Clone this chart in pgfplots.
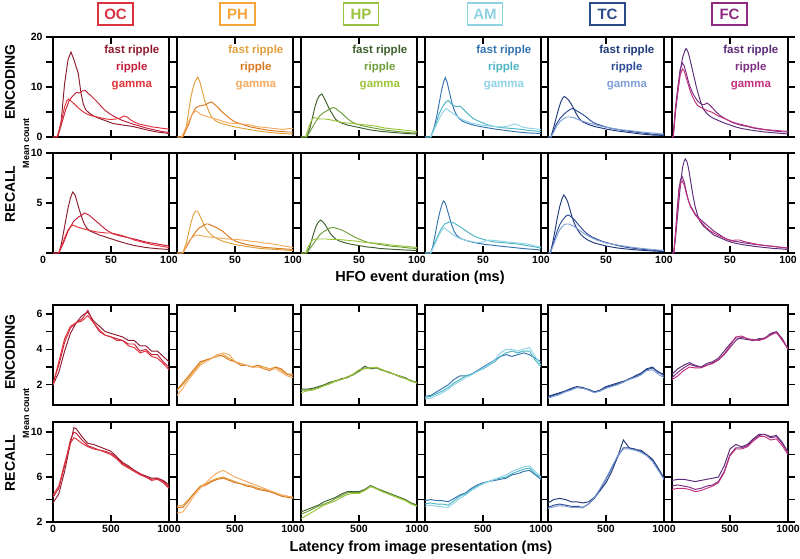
\documentclass[border=0pt]{standalone}
\usepackage{fontspec}
\setmainfont{Liberation Sans}
\usepackage{pgfplots}
\usepackage{pgfplotstable}
\pgfplotsset{compat=1.18}

\definecolor{OCa}{HTML}{8E1B2E}\definecolor{OCb}{HTML}{C41E3A}\definecolor{OCc}{HTML}{E2333A}\definecolor{OCbox}{HTML}{D9333F}
\definecolor{PHa}{HTML}{E0A03C}\definecolor{PHb}{HTML}{D9781E}\definecolor{PHc}{HTML}{F6AA60}\definecolor{PHbox}{HTML}{F5A53A}
\definecolor{HPa}{HTML}{3E5F2E}\definecolor{HPb}{HTML}{6E9E3A}\definecolor{HPc}{HTML}{9CC43A}\definecolor{HPbox}{HTML}{9BC23F}
\definecolor{AMa}{HTML}{3573B0}\definecolor{AMb}{HTML}{4BB5C1}\definecolor{AMc}{HTML}{8ED3E6}\definecolor{AMbox}{HTML}{8FD2E2}
\definecolor{TCa}{HTML}{1F3A7A}\definecolor{TCb}{HTML}{2B4C95}\definecolor{TCc}{HTML}{7F9FD6}\definecolor{TCbox}{HTML}{2B4A8A}
\definecolor{FCa}{HTML}{5B2A78}\definecolor{FCb}{HTML}{7B2D7F}\definecolor{FCc}{HTML}{C0307E}\definecolor{FCbox}{HTML}{8E2A82}

\pgfplotstableread{
x a b c
0 2.0 2.1 2.0
50 2.7 3.1 3.3
100 3.9 4.4 4.6
150 4.9 5.2 5.3
200 5.5 5.5 5.5
250 5.9 5.7 5.6
300 6.1 6.2 5.9
350 5.6 5.5 5.5
400 5.3 5.0 5.1
450 5.0 4.8 4.8
500 4.9 4.7 4.7
550 4.8 4.6 4.5
600 4.7 4.5 4.5
650 4.5 4.3 4.2
700 4.5 4.3 4.1
750 4.2 3.9 3.8
800 4.2 4.0 3.9
850 3.9 3.7 3.6
900 3.9 3.7 3.5
950 3.6 3.3 3.2
1000 3.3 3.0 2.85
}\encOC
\pgfplotstableread{
x a b c
0 1.7 1.7 1.4
50 2.0 2.1 1.8
100 2.4 2.5 2.3
150 2.8 2.9 2.7
200 3.2 3.3 3.1
250 3.4 3.4 3.3
300 3.5 3.5 3.5
350 3.6 3.7 3.7
400 3.7 3.6 3.8
450 3.5 3.4 3.7
500 3.3 3.3 3.3
550 3.2 3.1 3.2
600 3.1 3.1 3.1
650 3.0 3.0 3.0
700 3.1 3.1 3.0
750 3.0 2.9 2.9
800 2.9 2.8 2.9
850 3.0 3.0 2.9
900 2.8 2.9 2.7
950 2.6 2.6 2.5
1000 2.6 2.5 2.4
}\encPH
\pgfplotstableread{
x a b c
0 1.75 1.7 1.55
50 1.75 1.7 1.65
100 1.8 1.75 1.7
150 1.9 1.85 1.8
200 2.0 1.95 1.95
250 2.15 2.1 2.05
300 2.2 2.25 2.2
350 2.35 2.3 2.3
400 2.4 2.45 2.45
450 2.6 2.55 2.6
500 2.8 2.75 2.85
550 3.05 2.95 2.9
600 2.9 2.95 2.95
650 2.95 2.95 3.0
700 2.85 2.8 2.85
750 2.7 2.75 2.7
800 2.6 2.6 2.6
850 2.5 2.45 2.5
900 2.4 2.35 2.35
950 2.2 2.25 2.2
1000 2.15 2.1 2.1
}\encHP
\pgfplotstableread{
x a b c
0 1.35 1.3 1.2
50 1.4 1.35 1.25
100 1.6 1.5 1.4
150 1.8 1.65 1.55
200 2.0 1.85 1.75
250 2.3 2.1 2.0
300 2.5 2.3 2.2
350 2.5 2.5 2.4
400 2.6 2.6 2.55
450 2.8 2.75 2.75
500 3.0 2.9 2.95
550 3.2 3.1 3.15
600 3.4 3.3 3.4
650 3.6 3.6 3.8
700 3.7 3.8 4.0
750 3.6 3.9 4.0
800 3.7 3.8 3.9
850 3.8 3.9 4.0
900 3.7 3.9 4.1
950 3.5 3.4 3.6
1000 3.3 3.0 3.1
}\encAM
\pgfplotstableread{
x a b c
0 1.35 1.3 1.25
50 1.45 1.4 1.35
100 1.55 1.5 1.45
150 1.65 1.65 1.6
200 1.8 1.75 1.7
250 1.9 1.85 1.85
300 1.85 1.8 1.8
350 1.7 1.75 1.7
400 1.6 1.6 1.55
450 1.7 1.65 1.65
500 1.9 1.85 1.8
550 2.0 1.95 1.9
600 2.1 2.05 2.0
650 2.2 2.15 2.15
700 2.3 2.35 2.3
750 2.5 2.45 2.4
800 2.65 2.6 2.55
850 2.9 2.85 2.8
900 3.0 2.95 2.85
950 2.7 2.75 2.6
1000 2.6 2.5 2.4
}\encTC
\pgfplotstableread{
x a b c
0 2.6 2.4 2.3
50 2.9 2.7 2.5
100 3.1 2.95 2.8
150 3.25 3.15 3.0
200 3.1 3.05 2.95
250 3.0 3.0 2.95
300 3.2 3.1 3.1
350 3.3 3.25 3.2
400 3.5 3.4 3.4
450 3.9 3.7 3.75
500 4.3 4.1 4.2
550 4.65 4.5 4.7
600 4.6 4.7 4.75
650 4.55 4.6 4.6
700 4.5 4.5 4.55
750 4.6 4.55 4.5
800 4.6 4.65 4.6
850 4.9 4.85 4.8
900 5.0 4.95 4.95
950 4.6 4.6 4.5
1000 4.0 4.0 4.05
}\encFC
\pgfplotstableread{
x a b c
0 3.7 4.2 4.4
50 4.5 5.0 5.2
100 6.5 7.0 7.2
150 9.0 9.3 9.0
180 10.4 10.0 9.5
200 10.3 9.9 9.4
250 9.6 9.3 9.0
300 9.0 8.8 8.7
350 8.9 8.6 8.5
400 8.7 8.4 8.4
450 8.5 8.3 8.2
500 8.3 8.1 8.0
550 7.8 7.7 7.6
600 7.3 7.2 7.1
650 7.0 6.9 6.8
700 6.6 6.6 6.5
750 6.3 6.3 6.2
800 6.1 6.0 6.0
850 5.9 5.8 5.7
900 5.9 5.9 5.8
950 5.7 5.6 5.5
1000 5.3 5.1 5.0
}\recOC
\pgfplotstableread{
x a b c
0 3.4 3.3 2.8
50 3.5 3.3 2.9
100 4.0 3.9 3.6
150 4.6 4.6 4.4
200 5.2 5.1 5.0
250 5.4 5.3 5.5
300 5.7 5.6 6.0
350 5.9 5.8 6.4
400 6.0 5.9 6.6
450 5.8 5.7 6.3
500 5.6 5.5 6.0
550 5.4 5.4 5.8
600 5.3 5.2 5.6
650 5.2 5.1 5.4
700 5.0 4.9 5.2
750 4.9 4.8 5.0
800 4.7 4.7 4.8
850 4.6 4.5 4.6
900 4.4 4.3 4.4
950 4.3 4.2 4.3
1000 4.2 4.1 4.2
}\recPH
\pgfplotstableread{
x a b c
0 2.9 2.7 2.3
50 3.1 2.9 2.6
100 3.3 3.15 2.9
150 3.5 3.4 3.2
200 3.8 3.6 3.5
250 4.0 3.8 3.7
300 4.2 4.1 3.9
350 4.5 4.35 4.2
400 4.7 4.6 4.45
450 4.7 4.65 4.55
500 4.7 4.6 4.55
550 4.9 4.85 4.8
600 5.25 5.2 5.15
650 5.0 5.0 4.95
700 4.8 4.75 4.7
750 4.6 4.55 4.5
800 4.4 4.35 4.3
850 4.2 4.15 4.1
900 4.0 3.95 3.9
950 3.7 3.65 3.6
1000 3.5 3.45 3.4
}\recHP
\pgfplotstableread{
x a b c
0 3.9 3.6 3.4
50 4.0 3.7 3.5
100 3.9 3.6 3.4
150 3.9 3.6 3.35
200 3.8 3.5 3.3
250 4.1 3.9 3.7
300 4.4 4.3 4.1
350 4.6 4.5 4.4
400 5.0 4.9 4.8
450 5.3 5.2 5.1
500 5.5 5.45 5.4
550 5.6 5.6 5.6
600 5.7 5.8 5.8
650 5.8 5.9 6.0
700 5.9 6.0 6.2
750 6.2 6.3 6.5
800 6.3 6.5 6.7
850 6.5 6.7 6.9
900 6.6 6.8 7.0
950 6.2 6.3 6.5
1000 5.8 5.9 6.0
}\recAM
\pgfplotstableread{
x a b c
0 3.7 3.3 3.2
50 4.0 3.5 3.35
100 4.1 3.6 3.45
150 4.0 3.5 3.4
200 3.8 3.4 3.3
250 3.8 3.4 3.3
300 3.7 3.3 3.25
350 3.8 3.6 3.6
400 4.2 4.1 4.2
450 4.8 4.9 5.0
500 5.5 5.8 5.9
550 6.5 6.8 6.9
600 7.8 7.8 7.9
650 9.3 8.6 8.5
700 8.6 8.6 8.5
750 8.4 8.5 8.4
800 8.4 8.3 8.2
850 8.0 8.0 7.9
900 7.6 7.5 7.4
950 6.8 6.7 6.6
1000 5.9 5.8 5.8
}\recTC
\pgfplotstableread{
x a b c
0 5.7 5.2 4.9
50 5.8 5.3 5.0
100 5.8 5.2 5.0
150 5.7 5.1 4.9
200 5.6 4.9 4.7
250 5.7 5.0 4.8
300 5.8 5.2 5.0
350 5.9 5.3 5.2
400 6.0 5.6 5.5
450 7.0 6.5 6.4
500 8.5 8.0 7.9
550 8.9 8.6 8.5
600 8.7 8.6 8.5
650 8.9 8.8 8.7
700 9.4 9.3 9.2
750 9.8 9.7 9.6
800 9.8 9.8 9.6
850 9.6 9.5 9.3
900 9.7 9.6 9.4
950 9.1 9.0 8.8
1000 8.2 8.2 8.0
}\recFC

\pgfplotsset{
  base/.style={scale only axis, width=116pt, height=100pt, anchor=south west,
    axis line style={line width=1.8pt, black},
    tick style={black, line width=1.3pt},
    major tick length=7pt,
    xtick align=inside, ytick align=outside,
    ytick pos=left, xtick pos=both,
    tick label style={font=\fontsize{10.5}{11}\selectfont\bfseries},
    /pgf/number format/assume math mode=true,
    xmin=0, clip=true,
    every axis plot/.append style={line width=0.95pt, mark=none},
  },
  dur/.style={base, xmax=100, xtick={50}, xticklabels={}},
  lat/.style={base, xmax=1000, xtick={500}, xticklabels={}},
  r1/.style={dur, ymin=0, ymax=20, ytick={0,5,10,15,20}, yticklabels={}},
  r2/.style={dur, ymin=0, ymax=10, ytick={0,2.5,5,7.5,10}, yticklabels={}, xtick={50,100}, xticklabels={50,100}},
  r3/.style={lat, ymin=0.86, ymax=6.5, ytick={2,3,4,5,6}, yticklabels={}},
  r4/.style={lat, ymin=2, ymax=10.9, ytick={2,4,6,8,10}, yticklabels={}, xtick={500,1000}, xticklabels={500,1000}},
  lastp/.style={ytick pos=both},
}
\newcommand{\leg}[3]{%
  \node[font=\fontsize{11.5}{11.5}\selectfont\bfseries, text=#1] at (rel axis cs:0.68,0.86) {fast ripple};
  \node[font=\fontsize{11.5}{11.5}\selectfont\bfseries, text=#2] at (rel axis cs:0.68,0.69) {ripple};
  \node[font=\fontsize{11.5}{11.5}\selectfont\bfseries, text=#3] at (rel axis cs:0.68,0.51) {gamma};}
\newcommand{\lat}[2]{%
  \addplot[#1a] table[x=x,y=a]{#2};
  \addplot[#1b] table[x=x,y=b]{#2};
  \addplot[#1c] table[x=x,y=c]{#2};}

\begin{document}
\begin{tikzpicture}
\path[use as bounding box] (0pt,0pt) rectangle (800pt,558pt);

% ---------------- Row 1: encoding, duration ----------------
\begin{axis}[r1, at={(53pt,421pt)}, yticklabels={0,,10,,20}]
\addplot[OCa] coordinates {(0,0)(4,0)(7,3)(10,10.7)(13,15.5)(15.5,17)(18,15.5)(21.8,12.7)(24,9)(26,6.7)(28,5.5)(31.6,4.7)(36,4.1)(40,3.7)(46,3.2)(51.7,2.7)(60,2.4)(68.8,2.1)(76,1.7)(83,1.3)(90,1.0)(100,0.7)};
\addplot[OCb] coordinates {(0,0)(4,0)(6,1.5)(8.5,3.5)(11,5.5)(14,7.3)(17,8.2)(20,8.9)(23,8.8)(25,9.2)(28,9.3)(30,8.8)(33,8.2)(36,7.5)(39,6.8)(42,6)(45,5.3)(48,4.8)(52,4.2)(56,3.7)(60,3.3)(65,2.9)(70,2.5)(76,2.1)(82,1.7)(88,1.4)(94,1.1)(100,0.9)};
\addplot[OCc] coordinates {(0,0)(3.5,0)(6,2)(8,4)(10,6)(12,7.3)(13.5,7.6)(16,7.1)(18,6.7)(21,6)(24,5.4)(27,4.9)(30,4.5)(34,4.2)(38,4)(42,3.8)(46,3.6)(50,3.5)(54,3.6)(58,3.8)(61,4.2)(64,4)(67,3.4)(70,3)(74,2.6)(78,2.4)(82,2.2)(86,2)(90,1.9)(95,1.7)(100,1.6)};
\leg{OCa}{OCb}{OCc}
\end{axis}
\begin{axis}[r1, at={(177pt,421pt)}]
\addplot[PHa] coordinates {(0,0)(5,0)(8,2)(10,5)(12,8)(14,10)(16,11.3)(18,12)(20,10.8)(22,9)(24,7.2)(26,6)(28,4.8)(30,4)(33,3.3)(36,2.9)(40,2.6)(45,2.3)(50,2)(55,1.8)(60,1.6)(65,1.4)(70,1.2)(75,1.05)(80,0.9)(85,0.8)(90,0.7)(95,0.65)(100,0.6)};
\addplot[PHb] coordinates {(0,0)(5,0)(8,1.5)(10,2.5)(13,4.5)(16,5.8)(19,6.2)(22,6.3)(25,6.5)(28,6.9)(30,7)(32,6.6)(35,6)(38,5.2)(40,4.8)(43,4.2)(46,3.6)(50,3)(54,2.7)(58,2.4)(62,2.1)(66,1.9)(70,1.7)(75,1.5)(80,1.3)(85,1.2)(90,1.1)(95,1)(100,1)};
\addplot[PHc] coordinates {(0,0)(4,0)(7,1.5)(10,3)(13,4.5)(16,5.2)(18,5)(20,4.6)(23,4.3)(26,4.1)(30,3.8)(35,3.5)(40,3.1)(45,2.8)(50,2.7)(55,2.6)(60,2.5)(64,2.4)(68,2.1)(72,2)(76,1.9)(80,1.8)(84,1.7)(88,1.6)(92,1.5)(96,1.7)(100,1.7)};
\leg{PHa}{PHb}{PHc}
\end{axis}
\begin{axis}[r1, at={(301pt,421pt)}]
\addplot[HPa] coordinates {(0,0)(5,0)(8,2)(10,4)(12,6)(14,7.5)(16,8.3)(18,8.6)(20,7.8)(22,6.8)(24,5.8)(26,5)(28,4.2)(30,3.5)(33,3)(36,2.7)(40,2.4)(44,2.2)(48,2)(52,1.8)(56,1.6)(60,1.4)(65,1.25)(70,1.1)(75,1)(80,0.9)(85,0.8)(90,0.7)(95,0.65)(100,0.6)};
\addplot[HPb] coordinates {(0,0)(5,0)(8,1.2)(10,2)(13,3.2)(16,4.2)(19,4.8)(22,5.2)(25,5.6)(28,5.9)(30,5.7)(32,5.3)(35,4.8)(38,4.1)(41,3.5)(44,3)(48,2.6)(52,2.3)(56,2.1)(60,1.9)(65,1.7)(70,1.5)(75,1.3)(80,1.2)(85,1.05)(90,0.95)(95,0.85)(100,0.8)};
\addplot[HPc] coordinates {(0,0)(4,0)(6,1.5)(8,2.8)(10,3.6)(11,3.9)(13,3.8)(16,3.6)(20,3.6)(24,3.5)(28,3.3)(32,3.1)(36,2.9)(40,2.8)(44,2.7)(48,2.6)(52,2.5)(56,2.4)(60,2.3)(64,2.2)(68,2.0)(72,1.8)(76,1.7)(80,1.6)(84,1.5)(88,1.4)(92,1.3)(96,1.2)(100,1.1)};
\leg{HPa}{HPb}{HPc}
\end{axis}
\begin{axis}[r1, at={(425pt,421pt)}]
\addplot[AMa] coordinates {(0,0)(5,0)(8,2)(10,4)(12,6.5)(14,9)(16,11)(17.5,11.9)(19,11)(21,9)(23,7)(25,5.5)(27,4.5)(29,3.8)(32,3.2)(36,2.8)(40,2.5)(45,2.2)(50,2)(55,1.8)(60,1.6)(65,1.45)(70,1.3)(75,1.15)(80,1)(85,0.9)(90,0.8)(95,0.75)(100,0.7)};
\addplot[AMb] coordinates {(0,0)(5,0)(8,1.8)(10,3)(12,4.5)(15,6)(18,7)(20,7.3)(22,6.8)(24,6.4)(26,6.1)(28,6.1)(30,6.2)(32,5.8)(35,5.1)(38,4.4)(41,3.8)(44,3.4)(48,3)(52,2.6)(56,2.3)(60,2.1)(65,1.9)(70,1.8)(75,1.7)(80,1.6)(85,1.45)(90,1.3)(95,1.2)(100,1.1)};
\addplot[AMc] coordinates {(0,0)(5,0)(8,1.5)(10,2.5)(13,4)(16,5.2)(18.5,5.7)(20,5.4)(23,4.9)(26,4.4)(29,3.9)(32,3.5)(35,3.2)(40,2.8)(44,2.6)(48,2.4)(52,2.3)(56,2.2)(60,2.1)(64,2)(68,2.05)(72,2.2)(76,2.5)(78,2.6)(80,2.4)(84,2)(88,1.8)(92,1.7)(96,1.6)(100,1.5)};
\leg{AMa}{AMb}{AMc}
\end{axis}
\begin{axis}[r1, at={(548pt,421pt)}]
\addplot[TCa] coordinates {(0,0)(2.5,0)(5,2)(7,3.8)(9,5.5)(11,7)(13,7.9)(14,8.1)(16,7.8)(18,7.3)(20,6.6)(22,5.8)(24,4.8)(26,4)(28,3.4)(30,3)(33,2.7)(36,2.4)(40,2.1)(44,1.9)(48,1.7)(52,1.5)(56,1.35)(60,1.2)(65,1.05)(70,0.9)(75,0.75)(80,0.6)(85,0.5)(90,0.4)(95,0.35)(100,0.3)};
\addplot[TCb] coordinates {(0,0)(2.5,0)(5,1.3)(7,2.5)(10,3.6)(13,4.4)(16,5)(19,5.5)(21,5.7)(23,5.5)(25,5.2)(28,4.8)(30,4.5)(33,4)(36,3.4)(39,2.9)(42,2.6)(46,2.3)(50,2)(55,1.7)(60,1.5)(65,1.3)(70,1.15)(75,1)(80,0.85)(85,0.7)(90,0.55)(95,0.45)(100,0.4)};
\addplot[TCc] coordinates {(0,0)(2.5,0)(5,1)(7,2)(10,3)(13,3.6)(16,4)(19,4)(22,3.9)(25,3.6)(28,3.3)(32,3)(36,2.7)(40,2.5)(45,2.2)(50,1.95)(55,1.75)(60,1.55)(65,1.4)(70,1.3)(75,1.15)(80,1)(85,0.9)(90,0.8)(95,0.7)(100,0.6)};
\leg{TCa}{TCb}{TCc}
\end{axis}
\begin{axis}[r1, lastp, at={(672pt,421pt)}]
\addplot[FCa] coordinates {(0,0)(1,0)(3,5)(5,9)(7,13)(9,15.8)(11,17.2)(12,17.7)(13.5,17.2)(15,16)(17,14)(19,12)(21,10)(23,8.3)(25,6.8)(27,5.6)(30,4.7)(33,4.1)(36,3.7)(40,3.3)(45,2.8)(50,2.4)(55,2)(60,1.7)(65,1.5)(70,1.3)(75,1.15)(80,1)(85,0.9)(90,0.8)(95,0.7)(100,0.6)};
\addplot[FCb] coordinates {(0,0)(1,0)(3,6)(5,10)(7,13.5)(9,14.8)(10.5,14.2)(12,13)(14,11.2)(16,9.8)(18,8.7)(20,7.9)(22,7.2)(24,6.8)(26,6.5)(28,6.5)(30,6.8)(32,6.5)(35,5.8)(38,5)(41,4.4)(44,3.9)(48,3.4)(52,2.9)(56,2.6)(60,2.3)(65,2.1)(70,1.8)(75,1.6)(80,1.45)(85,1.3)(90,1.15)(95,1.05)(100,1)};
\addplot[FCc] coordinates {(0,0)(1,0)(3,5.5)(5,9)(7,12.3)(9,13.6)(10.5,13.2)(12,12)(14,10.5)(16,9)(18,7.9)(20,7)(22,6.3)(24,6)(27,5.7)(30,5.3)(34,5)(37,4.6)(40,4.2)(44,3.8)(48,3.4)(52,3)(56,2.7)(60,2.5)(65,2.2)(70,1.9)(75,1.7)(80,1.5)(85,1.4)(90,1.3)(95,1.2)(100,1.2)};
\leg{FCa}{FCb}{FCc}
\end{axis}

% ---------------- Row 2: recall, duration ----------------
\begin{axis}[r2, at={(53pt,305pt)}, yticklabels={,,5,,10}, xtick={0,50,100}, xticklabels={\llap{0\hspace{7pt}},50,100}]
\addplot[OCa] coordinates {(0,0)(5,0)(7,0.8)(9,2)(11,3.3)(13,4.5)(15,5.5)(17,6.1)(19,5.8)(21,5)(23,4.2)(25,3.5)(27,2.9)(29,2.5)(32,2.2)(36,2)(40,1.8)(44,1.65)(48,1.5)(52,1.35)(56,1.2)(60,1.05)(65,0.9)(70,0.75)(75,0.65)(80,0.55)(88,0.45)(94,0.4)(100,0.35)};
\addplot[OCb] coordinates {(0,0)(5,0)(7,0.5)(9,1)(11,1.6)(13,2.2)(16,2.8)(18,3.2)(20,3.4)(22,3.6)(25,3.8)(27,4)(29,3.9)(31,3.8)(34,3.5)(37,3.2)(40,2.9)(43,2.6)(46,2.3)(49,2.1)(52,1.9)(55,1.8)(58,1.7)(62,1.6)(66,1.5)(70,1.4)(75,1.25)(80,1.1)(85,1)(90,0.9)(95,0.8)(100,0.7)};
\addplot[OCc] coordinates {(0,0)(5,0)(7,0.6)(9,1.2)(11,1.8)(13,2.3)(15,2.6)(17,2.8)(19,2.7)(21,2.6)(24,2.5)(27,2.4)(30,2.3)(34,2.2)(38,2.1)(42,2.05)(46,2)(50,2)(54,1.9)(58,1.8)(62,1.65)(66,1.5)(70,1.3)(75,1.15)(80,1)(85,0.85)(90,0.75)(95,0.65)(100,0.55)};
\end{axis}
\begin{axis}[r2, at={(177pt,305pt)}]
\addplot[PHa] coordinates {(0,0)(5,0)(8,1)(10,2)(12,3)(14,3.8)(16,4.2)(17.5,4.2)(19,3.9)(21,3.4)(23,2.9)(25,2.4)(28,2)(31,1.7)(35,1.4)(40,1.15)(45,1)(50,0.85)(55,0.75)(60,0.65)(66,0.55)(72,0.45)(78,0.4)(85,0.35)(92,0.3)(100,0.25)};
\addplot[PHb] coordinates {(0,0)(5,0)(8,0.6)(10,1)(13,1.6)(16,2.1)(19,2.5)(22,2.7)(25,2.9)(27,2.9)(30,2.75)(33,2.6)(36,2.4)(39,2.2)(42,1.9)(45,1.6)(48,1.35)(51,1.15)(55,1)(60,0.85)(65,0.75)(70,0.65)(76,0.55)(82,0.5)(88,0.45)(94,0.4)(100,0.35)};
\addplot[PHc] coordinates {(0,0)(5,0)(7,0.5)(9,0.9)(11,1.3)(13,1.55)(15,1.7)(17,1.8)(20,1.75)(24,1.65)(28,1.6)(32,1.55)(36,1.5)(40,1.45)(44,1.4)(48,1.35)(52,1.35)(56,1.3)(60,1.25)(65,1.15)(70,1.1)(75,1)(80,0.95)(85,0.85)(90,0.75)(95,0.65)(100,0.55)};
\end{axis}
\begin{axis}[r2, at={(301pt,305pt)}]
\addplot[HPa] coordinates {(0,0)(5,0)(7,0.5)(9,1.2)(11,2)(13,2.7)(15,3.1)(17,3.3)(19,3.1)(21,2.8)(23,2.4)(25,2)(27,1.7)(30,1.4)(33,1.2)(37,1.05)(42,0.9)(47,0.8)(52,0.7)(57,0.6)(62,0.55)(68,0.45)(75,0.4)(82,0.35)(90,0.3)(100,0.25)};
\addplot[HPb] coordinates {(0,0)(5,0)(8,0.5)(10,0.8)(13,1.3)(16,1.8)(19,2.1)(22,2.3)(25,2.5)(28,2.55)(31,2.45)(34,2.35)(37,2.2)(40,2)(43,1.8)(46,1.6)(50,1.4)(54,1.2)(58,1.05)(63,0.95)(68,0.85)(74,0.75)(80,0.65)(86,0.6)(93,0.5)(100,0.45)};
\addplot[HPc] coordinates {(0,0)(4,0)(6,0.6)(8,1)(10,1.3)(13,1.4)(17,1.4)(22,1.4)(27,1.35)(32,1.35)(37,1.3)(42,1.25)(47,1.2)(52,1.1)(57,1.05)(62,1.0)(67,0.95)(72,0.9)(77,0.8)(82,0.75)(87,0.7)(92,0.65)(96,0.6)(100,0.55)};
\end{axis}
\begin{axis}[r2, at={(425pt,305pt)}]
\addplot[AMa] coordinates {(0,0)(5,0)(7,0.8)(9,2)(11,3.2)(13,4.2)(15,5)(16,5.2)(17.5,5)(19,4.4)(21,3.6)(23,2.8)(25,2.2)(27,1.8)(30,1.5)(33,1.35)(37,1.2)(42,1.05)(47,0.95)(52,0.85)(57,0.8)(62,0.72)(68,0.65)(74,0.58)(80,0.5)(87,0.42)(94,0.36)(100,0.3)};
\addplot[AMb] coordinates {(0,0)(5,0)(7,0.6)(9,1.2)(11,1.7)(13,2.2)(15,2.6)(17,2.9)(19,3)(21,3.1)(23,3.05)(25,3)(27,2.85)(29,2.7)(32,2.5)(35,2.25)(38,2)(41,1.8)(44,1.6)(48,1.45)(52,1.3)(56,1.2)(60,1.1)(65,1.05)(70,1)(75,0.95)(80,0.9)(85,0.8)(90,0.7)(95,0.6)(100,0.5)};
\addplot[AMc] coordinates {(0,0)(5,0)(7,0.5)(9,1)(11,1.5)(13,2)(15,2.4)(16.5,2.5)(18,2.4)(20,2.2)(22,2)(24,1.85)(27,1.6)(30,1.45)(34,1.3)(38,1.2)(42,1.1)(46,1.05)(50,1.1)(53,1.25)(56,1.3)(60,1.25)(64,1.2)(68,1.15)(72,1.1)(76,1.05)(80,1.0)(85,0.95)(90,0.85)(95,0.7)(100,0.6)};
\end{axis}
\begin{axis}[r2, at={(548pt,305pt)}]
\addplot[TCa] coordinates {(0,0)(2,0)(4,1)(6,2.2)(8,3.5)(10,4.6)(12,5.4)(13.5,5.8)(15,5.6)(17,5.1)(19,4.3)(21,3.5)(23,2.9)(25,2.4)(28,1.9)(31,1.55)(35,1.25)(40,1)(45,0.85)(50,0.7)(55,0.6)(60,0.5)(66,0.42)(72,0.35)(80,0.28)(90,0.2)(100,0.15)};
\addplot[TCb] coordinates {(0,0)(2,0)(4,0.8)(6,1.5)(8,2.2)(10,2.8)(12,3.2)(14,3.5)(16,3.75)(17.5,3.8)(19,3.7)(21,3.5)(23,3.3)(25,3)(28,2.6)(31,2.2)(34,1.9)(38,1.6)(42,1.4)(46,1.2)(50,1.05)(55,0.9)(60,0.75)(66,0.6)(72,0.5)(80,0.38)(90,0.28)(100,0.2)};
\addplot[TCc] coordinates {(0,0)(2,0)(4,0.6)(6,1.2)(8,1.8)(10,2.3)(12,2.6)(14,2.85)(16,2.9)(18,2.9)(20,2.8)(22,2.7)(25,2.45)(28,2.2)(31,1.95)(34,1.75)(38,1.5)(42,1.3)(46,1.15)(50,1.0)(55,0.9)(60,0.8)(66,0.68)(72,0.58)(80,0.47)(90,0.35)(100,0.25)};
\end{axis}
\begin{axis}[r2, lastp, at={(672pt,305pt)}]
\addplot[FCa] coordinates {(0,0)(1.5,0)(3,1.5)(5,4)(7,6.5)(9,8.5)(10.5,9.2)(11.5,9.4)(13,9.1)(14.5,8.3)(16,7.2)(18,5.8)(20,4.6)(22,3.8)(24,3.2)(27,2.7)(30,2.4)(33,2.1)(36,1.8)(40,1.6)(44,1.4)(48,1.2)(52,1.05)(56,0.95)(60,0.85)(66,0.75)(72,0.65)(80,0.55)(88,0.45)(95,0.4)(100,0.35)};
\addplot[FCb] coordinates {(0,0)(1.5,0)(3,2)(4.5,4.5)(6,6.5)(7.5,7.4)(9,7.6)(10.5,7.1)(12,6.3)(14,5.3)(16,4.7)(18,4.3)(20,3.9)(22,3.6)(24,3.4)(27,3.1)(30,2.8)(33,2.5)(36,2.2)(40,1.9)(44,1.6)(48,1.35)(52,1.2)(56,1.15)(60,1.05)(66,0.95)(72,0.85)(80,0.75)(88,0.65)(95,0.55)(100,0.5)};
\addplot[FCc] coordinates {(0,0)(1.5,0)(3,1.8)(4.5,4)(6,6)(7.5,7)(9,7.2)(10.5,6.8)(12,6.1)(14,5.3)(16,4.6)(18,4.2)(20,3.8)(23,3.4)(26,3)(29,2.6)(32,2.3)(36,2)(40,1.75)(44,1.55)(48,1.35)(52,1.25)(55,1.3)(58,1.3)(62,1.15)(66,1.05)(72,0.9)(80,0.75)(88,0.65)(95,0.55)(100,0.5)};
\end{axis}

% ---------------- Row 3: encoding, latency ----------------
\begin{axis}[r3, at={(53pt,153pt)}, yticklabels={2,,4,,6}] \lat{OC}{\encOC} \end{axis}
\begin{axis}[r3, at={(177pt,153pt)}] \lat{PH}{\encPH} \end{axis}
\begin{axis}[r3, at={(301pt,153pt)}] \lat{HP}{\encHP} \end{axis}
\begin{axis}[r3, at={(425pt,153pt)}] \lat{AM}{\encAM} \end{axis}
\begin{axis}[r3, at={(548pt,153pt)}] \lat{TC}{\encTC} \end{axis}
\begin{axis}[r3, lastp, at={(672pt,153pt)}] \lat{FC}{\encFC} \end{axis}

% ---------------- Row 4: recall, latency ----------------
\begin{axis}[r4, at={(53pt,36pt)}, yticklabels={2,,6,,10}, xtick={0,500,1000}, xticklabels={0,500,1000}] \lat{OC}{\recOC} \end{axis}
\begin{axis}[r4, at={(177pt,36pt)}] \lat{PH}{\recPH} \end{axis}
\begin{axis}[r4, at={(301pt,36pt)}] \lat{HP}{\recHP} \end{axis}
\begin{axis}[r4, at={(425pt,36pt)}] \lat{AM}{\recAM} \end{axis}
\begin{axis}[r4, at={(548pt,36pt)}] \lat{TC}{\recTC} \end{axis}
\begin{axis}[r4, lastp, at={(672pt,36pt)}] \lat{FC}{\recFC} \end{axis}

% ---------------- Texts ----------------
\tikzset{hdr/.style={line width=1.6pt, minimum width=35pt, minimum height=22pt, inner sep=0pt, font=\fontsize{15}{15}\selectfont\bfseries}}
\node[hdr, draw=OCbox, text=OCbox] at (115.5pt,544pt) {OC};
\node[hdr, draw=PHbox, text=PHbox] at (237.5pt,544pt) {PH};
\node[hdr, draw=HPbox, text=HPbox] at (361pt,544pt) {HP};
\node[hdr, draw=AMbox, text=AMbox] at (485pt,544pt) {AM};
\node[hdr, draw=TCbox, text=TCbox] at (607.5pt,544pt) {TC};
\node[hdr, draw=FCbox, text=FCbox] at (729.5pt,544pt) {FC};

\tikzset{rowlab/.style={rotate=90, font=\fontsize{14}{14}\selectfont\bfseries, inner sep=0pt}}
\node[rowlab] at (10pt,476pt) {ENCODING};
\node[rowlab] at (10pt,364pt) {RECALL};
\node[rowlab] at (10pt,206pt) {ENCODING};
\node[rowlab] at (10pt,95pt) {RECALL};
\node[rotate=90, font=\fontsize{9}{9}\selectfont\bfseries, inner sep=0pt] at (26pt,415pt) {Mean count};
\node[rotate=90, font=\fontsize{9}{9}\selectfont\bfseries, inner sep=0pt] at (26pt,145pt) {Mean count};
\node[font=\fontsize{14.5}{15}\selectfont\bfseries, inner sep=0pt] at (420pt,280pt) {HFO event duration (ms)};
\node[font=\fontsize{14.5}{15}\selectfont\bfseries, inner sep=0pt] at (421pt,10pt) {Latency from image presentation (ms)};
\end{tikzpicture}
\end{document}
